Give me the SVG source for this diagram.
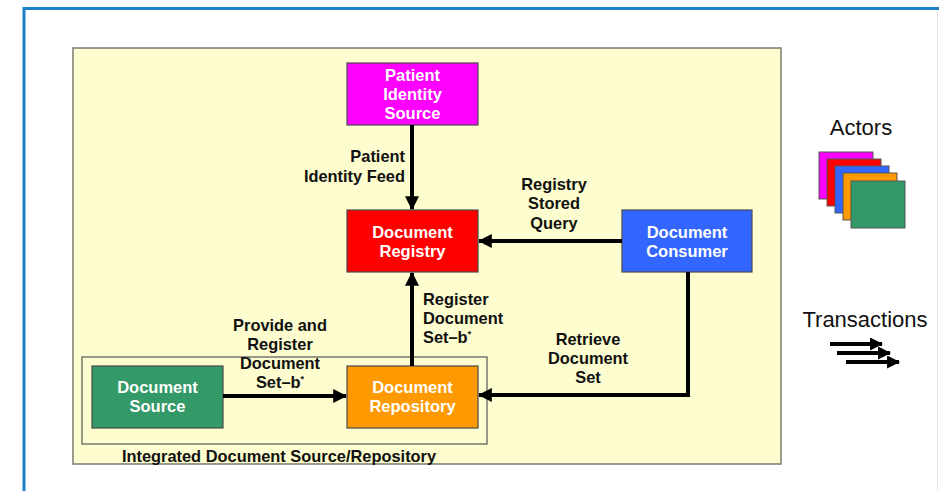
<svg xmlns="http://www.w3.org/2000/svg" width="939" height="491" viewBox="0 0 939 491">
<defs>
<style>
.node rect{stroke:#4a4a4a;stroke-width:1.2}
.nt{font-family:"Liberation Sans",Arial,sans-serif;font-weight:bold;font-size:16.5px;fill:#fff;text-anchor:middle}
.lb{font-family:"Liberation Sans",Arial,sans-serif;font-weight:bold;font-size:16.4px;fill:#111}
.lg{font-family:"Liberation Sans",Arial,sans-serif;font-size:22px;fill:#111;text-anchor:middle}
.conn path{fill:none;stroke:#000;stroke-width:4}
.sq{stroke:#555;stroke-width:1}
</style>
<marker id="ah" markerUnits="userSpaceOnUse" markerWidth="14" markerHeight="14" viewBox="0 0 12 12" refX="11" refY="6" orient="auto">
<path d="M0,0 L12,6 L0,12 Z" fill="#000"/>
</marker>
<marker id="ahs" markerUnits="userSpaceOnUse" markerWidth="13" markerHeight="13" viewBox="0 0 12 12" refX="11" refY="6" orient="auto">
<path d="M0,0 L12,6 L0,12 Z" fill="#000"/>
</marker>
</defs>
<rect width="939" height="491" fill="#fff"/>
<path d="M24,491 V8.5 H939" fill="none" stroke="#1b80c6" stroke-width="3"/>
<path d="M937.5,10 V491" fill="none" stroke="#e4e8ee" stroke-width="1"/>

<g id="panel">
<rect x="73" y="48" width="708" height="416" fill="#fdfdcf" stroke="#7a7a70" stroke-width="1.5"/>
</g>

<g id="integrated">
<rect x="82" y="357" width="405" height="87" fill="none" stroke="#555" stroke-width="1.2"/>
<text class="lb" x="279" y="462" text-anchor="middle" font-size="16.8">Integrated Document Source/Repository</text>
</g>

<g id="patient-identity-source" class="node">
<rect x="347" y="63" width="131" height="62" fill="#ff00ff"/>
<text class="nt" x="412.5" y="81">Patient</text>
<text class="nt" x="412.5" y="100">Identity</text>
<text class="nt" x="412.5" y="119">Source</text>
</g>

<g id="document-registry" class="node">
<rect x="347" y="210" width="131" height="62" fill="#ff0000"/>
<text class="nt" x="412.5" y="238">Document</text>
<text class="nt" x="412.5" y="257">Registry</text>
</g>

<g id="document-consumer" class="node">
<rect x="622" y="210" width="130" height="62" fill="#3366ff"/>
<text class="nt" x="687" y="238">Document</text>
<text class="nt" x="687" y="257">Consumer</text>
</g>

<g id="document-source" class="node">
<rect x="92" y="366" width="131" height="62" fill="#339966"/>
<text class="nt" x="157.5" y="393">Document</text>
<text class="nt" x="157.5" y="412">Source</text>
</g>

<g id="document-repository" class="node">
<rect x="347" y="366" width="131" height="62" fill="#ff9900"/>
<text class="nt" x="412.5" y="393">Document</text>
<text class="nt" x="412.5" y="412">Repository</text>
</g>

<g id="connectors" class="conn">
<path d="M412,125 V209" marker-end="url(#ah)"/>
<path d="M622,241 H479" marker-end="url(#ah)"/>
<path d="M412,366 V273" marker-end="url(#ah)"/>
<path d="M223,396 H346" marker-end="url(#ah)"/>
<path d="M688,272 V395 H479" marker-end="url(#ah)"/>
</g>

<g id="labels">
<text class="lb" text-anchor="end" x="405"><tspan x="405" y="162">Patient</tspan><tspan x="405" y="182">Identity Feed</tspan></text>
<text class="lb" text-anchor="middle"><tspan x="554" y="190">Registry</tspan><tspan x="554" y="209">Stored</tspan><tspan x="554" y="229">Query</tspan></text>
<text class="lb"><tspan x="423" y="305">Register</tspan><tspan x="423" y="324">Document</tspan><tspan x="423" y="343">Set–b<tspan font-size="9" dy="-6">*</tspan></tspan></text>
<text class="lb" text-anchor="middle"><tspan x="280" y="331">Provide and</tspan><tspan x="280" y="350">Register</tspan><tspan x="280" y="369">Document</tspan><tspan x="280" y="388">Set–b<tspan font-size="9" dy="-6">*</tspan></tspan></text>
<text class="lb" text-anchor="middle"><tspan x="588" y="345">Retrieve</tspan><tspan x="588" y="364">Document</tspan><tspan x="588" y="383">Set</tspan></text>
</g>

<g id="legend-actors">
<text class="lg" x="861" y="135">Actors</text>
<rect class="sq" x="819" y="152" width="54" height="47" fill="#ff00ff"/>
<rect class="sq" x="827" y="159" width="54" height="47" fill="#ff0000"/>
<rect class="sq" x="835" y="166" width="54" height="47" fill="#3366ff"/>
<rect class="sq" x="843" y="173" width="54" height="47" fill="#ff9900"/>
<rect class="sq" x="851" y="181" width="54" height="47" fill="#339966"/>
</g>

<g id="legend-transactions" class="conn">
<text class="lg" x="865" y="327" style="stroke:none">Transactions</text>
<path d="M830,344 H882" stroke-width="4" marker-end="url(#ahs)"/>
<path d="M837,353 H890" stroke-width="4" marker-end="url(#ahs)"/>
<path d="M846,362 H899" stroke-width="4" marker-end="url(#ahs)"/>
</g>
</svg>
